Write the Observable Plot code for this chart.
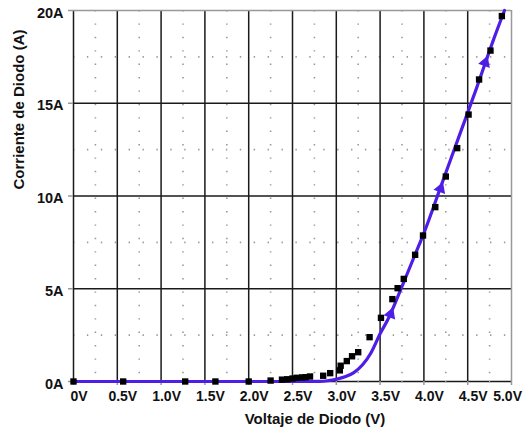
<!DOCTYPE html>
<html><head><meta charset="utf-8">
<script src="https://cdn.jsdelivr.net/npm/d3@7"></script>
<script src="https://cdn.jsdelivr.net/npm/@observablehq/plot@0.6"></script>
<style>
body{margin:0;background:#fff;}
svg{font-family:"Liberation Sans",Arial,sans-serif;}
</style>
</head><body><div id="chart"></div>
<script>
// Tick positions and labels
const xTicks = [0,0.5,1,1.5,2,2.5,3,3.5,4,4.5,5];
const xTickLabels = ["0V","0.5V","1.0V","1.5V","2.0V","2.5V","3.0V","3.5V","4.0V","4.5V","5.0V"];
const yTicks = [0,5,10,15,20];
const yTickLabels = ["0A","5A","10A","15A","20A"];
const xMinor = [0.25,0.75,1.25,1.75,2.25,2.75,3.25,3.75,4.25,4.75];
const yMinor = [2.5,7.5,12.5,17.5];

// Measured points (black squares)
const measVolts = [0,0.567,1.275,1.62,2.0,2.25,2.38,2.44,2.50,2.55,2.61,2.65,2.70,2.85,2.93,3.04,3.05,3.12,3.18,3.25,3.38,3.51,3.64,3.70,3.77,3.90,3.99,4.13,4.25,4.38,4.51,4.63,4.76,4.89];
const measAmps  = [0,0,0,0,0,0.05,0.10,0.12,0.16,0.20,0.22,0.23,0.27,0.31,0.45,0.60,0.85,1.10,1.36,1.58,2.39,3.43,4.44,5.03,5.53,6.83,7.87,9.40,11.05,12.58,14.39,16.28,17.84,19.70];

// Simulated curve (purple line)
const curveVolts = [0,0.5,1,1.5,2,2.5,2.8,2.9,3.0,3.1,3.2,3.3,3.4,3.5,3.6,3.7,3.8,3.9,4.0,4.2,4.4,4.6,4.8,4.92];
const curveAmps  = [0,0,0,0,0,0,0.01,0.04,0.12,0.25,0.48,0.9,1.58,2.57,3.45,4.55,5.7,6.85,8.0,10.6,13.2,15.8,18.5,20.0];

// Direction arrows on the curve
const arrowVolts = [3.62,4.19,4.70];
const arrowAmps  = [3.64,10.4,17.2];

const meas = measVolts.map((v,i)=>({v, a: measAmps[i]}));
const curve = curveVolts.map((v,i)=>({v, a: curveAmps[i]}));
const arrows = arrowVolts.map((v,i)=>({v, a: arrowAmps[i]}));

const purple = "#4f1ee6";

const plot = Plot.plot({
  width: 527, height: 431,
  marginLeft: 73, marginRight: 16, marginTop: 10, marginBottom: 50,
  x: {domain: [0,5], label: null},
  y: {domain: [0,20], label: null},
  style: {fontFamily: '"Liberation Sans",Arial,sans-serif', fontSize: "14px", fontWeight: "bold", background: "#fff", overflow: "visible"},
  marks: [
    Plot.ruleX(xMinor, {stroke: "#9a9a9a", strokeWidth: 1.6, strokeDasharray: "1.4,12"}),
    Plot.ruleY(yMinor, {stroke: "#9a9a9a", strokeWidth: 1.6, strokeDasharray: "1.4,12.5"}),
    Plot.ruleX(xTicks.slice(0,-1), {stroke: "#1a1a1a", strokeWidth: 1.5}),
    Plot.ruleY(yTicks.slice(0,-1), {stroke: "#1a1a1a", strokeWidth: 1.5}),
    Plot.ruleX([5], {stroke: "#999", strokeWidth: 1.5}),
    Plot.ruleY([20], {stroke: "#999", strokeWidth: 1.5}),
    Plot.axisX({ticks: xTicks, tickSize: 4, stroke: "#999", strokeWidth: 1.5, text: null, label: null}),
    Plot.axisX({ticks: xMinor, tickSize: 2, stroke: "#aaa", strokeWidth: 1.2, text: null, label: null}),
    Plot.axisY({ticks: yTicks, tickSize: 5, stroke: "#999", strokeWidth: 1.5, text: null, label: null}),
    Plot.text(xTicks.slice(0,-1), {x: d=>d, y: 0, text: (d,i)=>xTickLabels[i], dy: 15, dx: 5.5, lineAnchor: "middle", fill: "#111"}),
    Plot.text(xTicks.slice(-1), {x: d=>d, y: 0, text: d=>xTickLabels[xTicks.indexOf(d)], dy: 15, dx: 10.5, textAnchor: "end", lineAnchor: "middle", fill: "#111"}),
    Plot.text(yTicks, {x: 0, y: d=>d, text: (d,i)=>yTickLabels[i], dx: -10, dy: 2.5, textAnchor: "end", lineAnchor: "middle", fill: "#111", fontSize: 14.5}),
    Plot.line(curve, {x: "v", y: "a", stroke: purple, strokeWidth: 3.2, curve: "monotone-x"}),
    Plot.dot(arrows, {x: "v", y: "a", symbol: "triangle", r: 3.6, fill: purple, stroke: purple, rotate: 20}),
    Plot.dot(meas, {x: "v", y: "a", symbol: "square", r: 3.6, fill: "#000", stroke: "none"}),
    Plot.text(["Voltaje de Diodo (V)"], {frameAnchor: "bottom", dx: 22.5, dy: 38, fontSize: 15, fill: "#111", lineAnchor: "middle"}),
    Plot.text(["Corriente de Diodo (A)"], {frameAnchor: "left", rotate: -90, dx: -54, dy: -6.5, fontSize: 15, fill: "#111", lineAnchor: "middle"})
  ]
});
document.getElementById("chart").appendChild(plot);
</script>
</body></html>
